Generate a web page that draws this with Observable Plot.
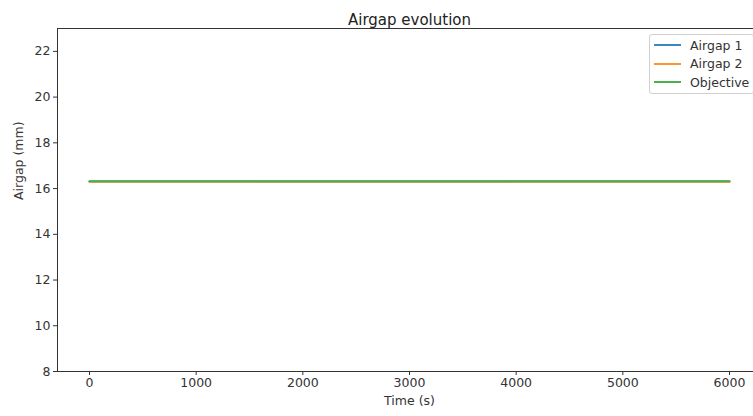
<!DOCTYPE html>
<html>
<head>
<meta charset="utf-8">
<script src="https://cdn.jsdelivr.net/npm/d3@7"></script>
<script src="https://cdn.jsdelivr.net/npm/@observablehq/plot@0.6"></script>
<style>
  html, body { margin: 0; padding: 0; background: #fff; overflow: hidden; width: 753px; height: 416px; }
  #wrap { position: relative; width: 775px; height: 416px; }
  #legend { position: absolute; left: 649px; top: 34px; width: 105px; height: 60px; border: 1px solid #d0d0d0; border-radius: 3px; background: rgba(255,255,255,0.85); font-family: "DejaVu Sans", sans-serif; font-size: 12.5px; color: #333; box-sizing: border-box; }
  .item { position: absolute; left: 4px; height: 18px; display: flex; align-items: center; }
  .item span.sw { display: inline-block; width: 27px; height: 2px; margin-right: 9px; }
</style>
</head>
<body>
<div id="wrap"></div>
<script>
const time = [0, 500, 1000, 1500, 2000, 2500, 3000, 3500, 4000, 4500, 5000, 5500, 6000];
const airgap1 = [16.31, 16.31, 16.31, 16.31, 16.31, 16.31, 16.31, 16.31, 16.31, 16.31, 16.31, 16.31, 16.31];
const airgap2 = [16.3, 16.3, 16.3, 16.3, 16.3, 16.3, 16.3, 16.3, 16.3, 16.3, 16.3, 16.3, 16.3];
const objective = [16.32, 16.32, 16.32, 16.32, 16.32, 16.32, 16.32, 16.32, 16.32, 16.32, 16.32, 16.32, 16.32];
const seriesNames = ["Airgap 1", "Airgap 2", "Objective"];
const seriesColors = ["#3a88c4", "#ff9233", "#4cae4c"];
const xTicks = [0, 1000, 2000, 3000, 4000, 5000, 6000];
const yTicks = [8, 10, 12, 14, 16, 18, 20, 22];

const seriesValues = [airgap1, airgap2, objective];
const data = [];
seriesValues.forEach((vals, s) => vals.forEach((v, i) => data.push({t: time[i], v, s: seriesNames[s]})));

const chart = Plot.plot({
  width: 775,
  height: 416,
  marginLeft: 57,
  marginRight: 14,
  marginTop: 28,
  marginBottom: 45,
  style: { fontFamily: "DejaVu Sans, sans-serif", fontSize: "12.5px", color: "#333", background: "#fff" },
  x: { domain: [-300, 6300], ticks: xTicks, tickFormat: d => String(d), tickSize: 4, tickPadding: 3, label: null },
  y: { domain: [8, 23], ticks: yTicks, tickFormat: d => String(d), tickSize: 4, tickPadding: 3, label: null },
  color: { domain: seriesNames, range: seriesColors },
  marks: [
    Plot.lineY(data, { x: "t", y: "v", z: "s", stroke: "s", strokeWidth: 2 }),
    Plot.frame({ stroke: "#333", strokeWidth: 1 }),
    Plot.text(["Airgap evolution"], { frameAnchor: "top", dy: -14, fontSize: 15, fill: "#222" }),
    Plot.text(["Time (s)"], { frameAnchor: "bottom", dy: 33, fontSize: 12.5, fill: "#333" }),
    Plot.text(["Airgap (mm)"], { frameAnchor: "left", dx: -39, rotate: -90, fontSize: 12.5, fill: "#333" })
  ]
});
const wrap = document.getElementById("wrap");
wrap.appendChild(chart);

const legend = document.createElement("div");
legend.id = "legend";
seriesNames.forEach((name, i) => {
  const it = document.createElement("div");
  it.className = "item";
  it.style.top = (1 + i * 18.5) + "px";
  const sw = document.createElement("span");
  sw.className = "sw";
  sw.style.background = seriesColors[i];
  it.appendChild(sw);
  it.appendChild(document.createTextNode(name));
  legend.appendChild(it);
});
wrap.appendChild(legend);
</script>
</body>
</html>
